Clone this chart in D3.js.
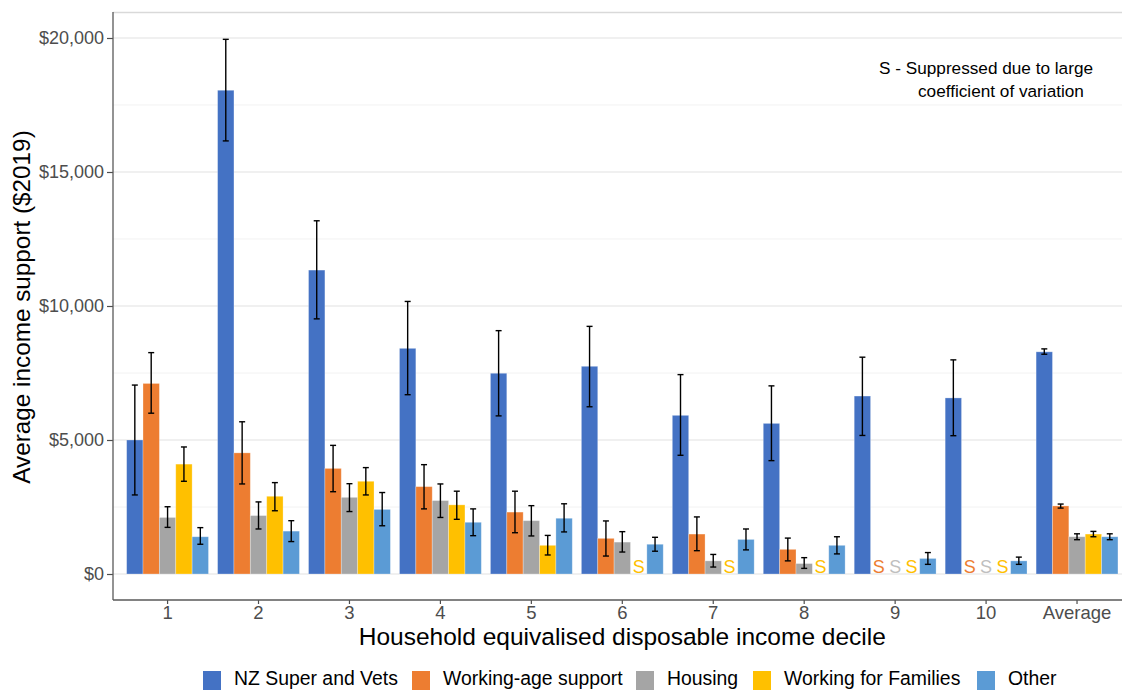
<!DOCTYPE html>
<html>
<head>
<meta charset="utf-8">
<script src="https://cdn.jsdelivr.net/npm/d3@7/dist/d3.min.js"></script>
<style>
html,body{margin:0;padding:0;background:#fff;}
svg{display:block;font-family:"Liberation Sans",Arial,sans-serif;}
</style>
</head>
<body>
<svg id="chart" width="1122" height="690"></svg>
<script>
// ---- data ----
const categories = ["1","2","3","4","5","6","7","8","9","10","Average"];
const seriesNames = ["NZ Super and Vets","Working-age support","Housing","Working for Families","Other"];
const seriesColors = ["#4472C4","#ED7D31","#A5A5A5","#FFC000","#5B9BD5"];
const suppressedColors = ["#4472C4","#ED7D31","#BFBFBF","#FFC000","#5B9BD5"];

const superVets   = [5000,18050,11340,8420,7490,7750,5920,5620,6640,6570,8290];
const superVetsLo = [2950,16160, 9520,6690,5900,6240,4430,4230,5170,5160,8200];
const superVetsHi = [7050,19950,13180,10170,9080,9240,7440,7020,8090,7990,8400];

const workingAge   = [7110,4520,3940,3260,2310,1330,1490,920,null,null,2540];
const workingAgeLo = [6000,3360,3070,2430,1540, 670, 870,490,null,null,2460];
const workingAgeHi = [8260,5680,4800,4080,3090,1980,2130,1340,null,null,2610];

const housing   = [2110,2180,2860,2740,1990,1190,490,390,null,null,1390];
const housingLo = [1740,1680,2330,2110,1420, 820,260,210,null,null,1280];
const housingHi = [2510,2690,3370,3360,2550,1580,730,610,null,null,1500];

const wff   = [4100,2900,3460,2580,1070,null,null,null,null,null,1490];
const wffLo = [3460,2360,2950,2040, 710,null,null,null,null,null,1390];
const wffHi = [4740,3410,3970,3090,1440,null,null,null,null,null,1590];

const other   = [1390,1600,2410,1930,2080,1110,1290,1070,580,490,1390];
const otherLo = [1110,1210,1800,1430,1570, 850, 900, 750,360,360,1280];
const otherHi = [1730,1990,3040,2430,2620,1370,1680,1390,800,630,1500];

const yTicks = [0,5000,10000,15000,20000];
const yMinor = [2500,7500,12500,17500];

// build table
const values = [superVets, workingAge, housing, wff, other];
const lows = [superVetsLo, workingAgeLo, housingLo, wffLo, otherLo];
const highs = [superVetsHi, workingAgeHi, housingHi, wffHi, otherHi];
const rows = [];
categories.forEach((c, i) => {
  seriesNames.forEach((s, j) => {
    rows.push({cat: c, series: s, j, value: values[j][i], lo: lows[j][i], hi: highs[j][i]});
  });
});

// ---- layout ----
const svg = d3.select("#chart");
const panel = {left: 113, top: 12, right: 1131.6, bottom: 600};

const x = d3.scaleBand().domain(categories).range([panel.left, panel.right])
  .paddingInner(0.1).paddingOuter(0.15);
const xs = d3.scaleBand().domain(seriesNames).range([0, x.bandwidth()]).padding(0);
const y = d3.scaleLinear().domain([-970, 20970]).range([panel.bottom, panel.top]);
const color = d3.scaleOrdinal().domain(seriesNames).range(seriesColors);
const sColor = d3.scaleOrdinal().domain(seriesNames).range(suppressedColors);

// grid
const g = svg.append("g");
g.selectAll(".minor").data(yMinor).join("line")
  .attr("x1", panel.left).attr("x2", panel.right)
  .attr("y1", d => y(d)).attr("y2", d => y(d))
  .attr("stroke", "#f2f2f2").attr("stroke-width", 1);
g.selectAll(".major").data(yTicks).join("line")
  .attr("x1", panel.left).attr("x2", panel.right)
  .attr("y1", d => y(d)).attr("y2", d => y(d))
  .attr("stroke", "#ebebeb").attr("stroke-width", 1.3);

// top border
svg.append("line").attr("x1", panel.left).attr("x2", panel.right)
  .attr("y1", panel.top + 0.5).attr("y2", panel.top + 0.5)
  .attr("stroke", "#d9d9d9").attr("stroke-width", 1.3);

// bars
const valid = rows.filter(d => d.value !== null);
svg.append("g").selectAll("rect").data(valid).join("rect")
  .attr("x", d => x(d.cat) + xs(d.series))
  .attr("width", xs.bandwidth())
  .attr("y", d => y(d.value))
  .attr("height", d => y(0) - y(d.value))
  .attr("fill", d => color(d.series))
  .attr("stroke", "#ffffff").attr("stroke-opacity", 0.35).attr("stroke-width", 0.8);

// error bars
const eb = svg.append("g").attr("stroke", "#000").attr("stroke-width", 1.4);
const capW = 3;
valid.forEach(d => {
  const cx = x(d.cat) + xs(d.series) + xs.bandwidth() / 2;
  eb.append("line").attr("x1", cx).attr("x2", cx).attr("y1", y(d.hi)).attr("y2", y(d.lo));
  eb.append("line").attr("x1", cx - capW).attr("x2", cx + capW).attr("y1", y(d.hi)).attr("y2", y(d.hi));
  eb.append("line").attr("x1", cx - capW).attr("x2", cx + capW).attr("y1", y(d.lo)).attr("y2", y(d.lo));
});

// suppressed labels
svg.append("g").selectAll("text").data(rows.filter(d => d.value === null)).join("text")
  .attr("x", d => x(d.cat) + xs(d.series) + xs.bandwidth() / 2)
  .attr("y", y(0) - 1)
  .attr("text-anchor", "middle")
  .attr("font-size", 18)
  .attr("fill", d => sColor(d.series))
  .text("S");

// axes
const yAxis = svg.append("g").attr("transform", `translate(${panel.left},0)`)
  .call(d3.axisLeft(y).tickValues(yTicks).tickSize(6).tickPadding(3)
    .tickFormat(d => "$" + d3.format(",")(d)));
yAxis.select(".domain").remove();
yAxis.selectAll(".tick line").attr("stroke", "#4d4d4d").attr("stroke-width", 1.2);
yAxis.selectAll(".tick text").attr("fill", "#4d4d4d").attr("font-size", 18)
  .attr("font-family", "Liberation Sans, Arial, sans-serif");

svg.append("line").attr("x1", panel.left).attr("x2", panel.left)
  .attr("y1", panel.top).attr("y2", panel.bottom)
  .attr("stroke", "#595959").attr("stroke-width", 1.3);

const xAxis = svg.append("g").attr("transform", `translate(0,${panel.bottom})`)
  .call(d3.axisBottom(x).tickSize(4).tickPadding(1.5));
xAxis.select(".domain").remove();
xAxis.selectAll(".tick line").attr("stroke", "#4d4d4d").attr("stroke-width", 1.2);
xAxis.selectAll(".tick text").attr("fill", "#4d4d4d").attr("font-size", 18.5)
  .attr("font-family", "Liberation Sans, Arial, sans-serif");

svg.append("line").attr("x1", panel.left).attr("x2", panel.right)
  .attr("y1", panel.bottom).attr("y2", panel.bottom)
  .attr("stroke", "#595959").attr("stroke-width", 1.3);

// axis titles
svg.append("text").attr("x", (panel.left + panel.right) / 2).attr("y", 645)
  .attr("text-anchor", "middle").attr("font-size", 24.5).attr("fill", "#000")
  .text("Household equivalised disposable income decile");
svg.append("text").attr("transform", `translate(30,${(panel.top + panel.bottom) / 2 + 1}) rotate(-90)`)
  .attr("text-anchor", "middle").attr("font-size", 24.3).attr("fill", "#000")
  .text("Average income support ($2019)");

// annotation
svg.append("text").attr("x", 879).attr("y", 74).attr("font-size", 17.2).attr("fill", "#000")
  .text("S - Suppressed due to large");
svg.append("text").attr("x", 918).attr("y", 97).attr("font-size", 17.2).attr("fill", "#000")
  .text("coefficient of variation");

// legend
const legendX = [203, 412, 636, 753, 977];
const leg = svg.append("g");
seriesNames.forEach((s, i) => {
  leg.append("rect").attr("x", legendX[i]).attr("y", 671).attr("width", 18).attr("height", 19)
    .attr("fill", color(s));
  leg.append("text").attr("x", legendX[i] + 31).attr("y", 685).attr("font-size", 19.4)
    .attr("fill", "#000").text(s);
});
</script>
</body>
</html>
